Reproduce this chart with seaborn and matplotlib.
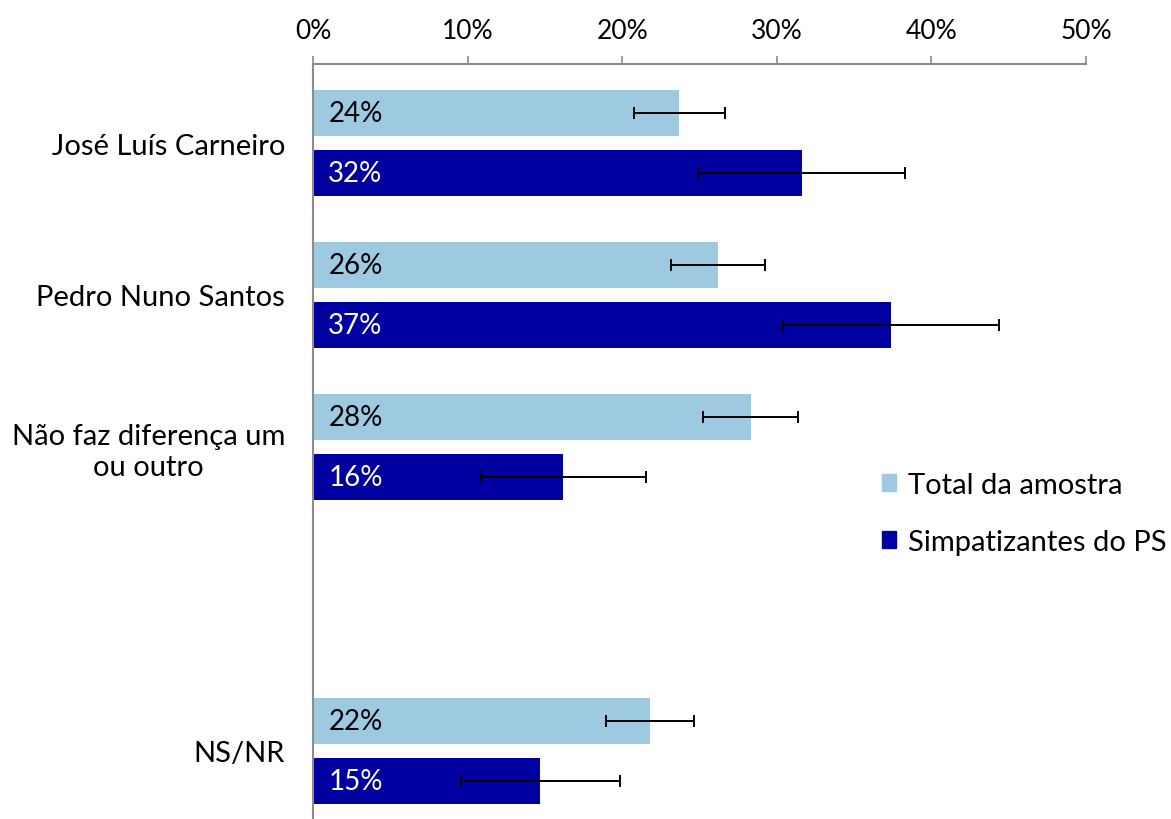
import matplotlib.pyplot as plt
import pandas as pd
import seaborn as sns

# Data (percentages)
categories = ["José Luís Carneiro", "Pedro Nuno Santos", "Não faz diferença um\nou outro", "NS/NR"]
cat_order = ["José Luís Carneiro", "Pedro Nuno Santos", "Não faz diferença um\nou outro", " ", "NS/NR"]
series = ["Total da amostra", "Simpatizantes do PS"]
total_vals = [23.7, 26.2, 28.3, 21.8]
ps_vals = [31.6, 37.4, 16.2, 14.7]
total_err = [2.95, 3.05, 3.05, 2.85]
ps_err = [6.7, 7.0, 5.35, 5.15]
xticks = [0, 10, 20, 30, 40, 50]

colors = {"Total da amostra": "#9ecae1", "Simpatizantes do PS": "#0000a0"}
label_colors = {"Total da amostra": "black", "Simpatizantes do PS": "white"}

df = pd.DataFrame({
    "categoria": categories * 2,
    "serie": [series[0]] * 4 + [series[1]] * 4,
    "valor": total_vals + ps_vals,
    "erro": total_err + ps_err,
})

plt.rcParams['font.family'] = ['Lato', 'DejaVu Sans']

fig = plt.figure(figsize=(11.71, 8.2), dpi=100)
ax = fig.add_axes([0.2673, 0.0, 0.9274 - 0.2673, 0.9207])

sns.barplot(data=df, y="categoria", x="valor", hue="serie", order=cat_order,
            hue_order=series, palette=colors, saturation=1, orient="h", width=0.79, gap=0.23,
            errorbar=None, legend=False, ax=ax)

# error bars and value labels, placed on the drawn bars
for cont, name in zip(ax.containers, series):
    sub = df[df["serie"] == name].set_index("categoria")
    for bar in cont:
        yc = bar.get_y() + bar.get_height() / 2
        cat = cat_order[int(round(yc))]
        val = sub.loc[cat, "valor"]
        err = sub.loc[cat, "erro"]
        ax.errorbar(val, yc, xerr=err, fmt="none", ecolor="black",
                    elinewidth=1.4, capsize=4.5, capthick=1.4)
        ax.annotate(f"{val:.0f}%", xy=(0, yc), xytext=(11, 0), textcoords="offset points",
                    ha="left", va="center", fontsize=20, color=label_colors[name])

ax.set_xlim(0, 50)
ax.set_ylim(4.45, -0.52)
ax.set_xticks(xticks)
ax.set_xticklabels([f"{t}%" for t in xticks])
ax.xaxis.tick_top()
ax.tick_params(axis="x", which="both", top=True, bottom=False, direction="out",
               length=6, width=1.2, color="#8c8c8c", labelsize=19, pad=9)
ax.tick_params(axis="y", left=False, labelsize=21, pad=16.5)
for lab in ax.get_yticklabels():
    lab.set_multialignment("center")
ax.set_xlabel("")
ax.set_ylabel("")

for side in ["right", "bottom"]:
    ax.spines[side].set_visible(False)
for side in ["top", "left"]:
    ax.spines[side].set_color("#8c8c8c")
    ax.spines[side].set_linewidth(1.5)

handles = [plt.Rectangle((0, 0), 1, 1, color=colors[s]) for s in series]
fig.legend(handles, series, loc="upper left", bbox_to_anchor=(0.7405, 0.441),
           frameon=False, fontsize=21, handlelength=0.5, handleheight=0.5,
           handletextpad=0.4, labelspacing=1.05, borderpad=0)

fig.savefig("out.png", dpi=100)
